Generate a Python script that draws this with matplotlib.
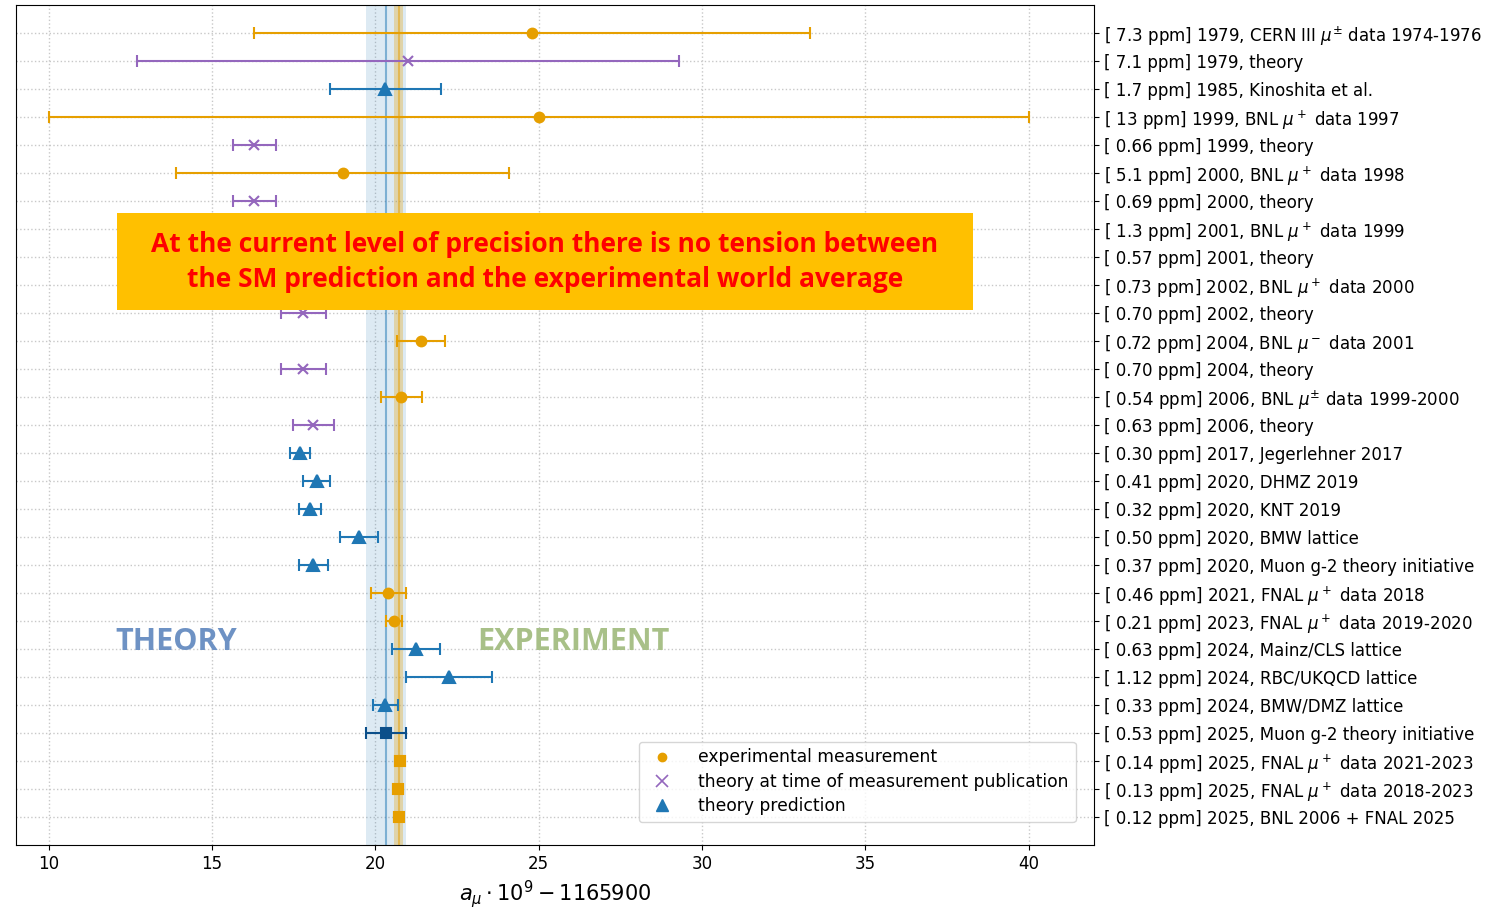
import numpy as np
import matplotlib.pyplot as plt
from matplotlib.lines import Line2D
from matplotlib.patches import Rectangle

# rows, top to bottom
labels = [
    r'[ 7.3 ppm] 1979, CERN III $\mu^{\pm}$ data 1974-1976',
    '[ 7.1 ppm] 1979, theory',
    '[ 1.7 ppm] 1985, Kinoshita et al.',
    r'[ 13 ppm] 1999, BNL $\mu^+$ data 1997',
    '[ 0.66 ppm] 1999, theory',
    r'[ 5.1 ppm] 2000, BNL $\mu^+$ data 1998',
    '[ 0.69 ppm] 2000, theory',
    r'[ 1.3 ppm] 2001, BNL $\mu^+$ data 1999',
    '[ 0.57 ppm] 2001, theory',
    r'[ 0.73 ppm] 2002, BNL $\mu^+$ data 2000',
    '[ 0.70 ppm] 2002, theory',
    r'[ 0.72 ppm] 2004, BNL $\mu^-$ data 2001',
    '[ 0.70 ppm] 2004, theory',
    r'[ 0.54 ppm] 2006, BNL $\mu^{\pm}$ data 1999-2000',
    '[ 0.63 ppm] 2006, theory',
    '[ 0.30 ppm] 2017, Jegerlehner 2017',
    '[ 0.41 ppm] 2020, DHMZ 2019',
    '[ 0.32 ppm] 2020, KNT 2019',
    '[ 0.50 ppm] 2020, BMW lattice',
    '[ 0.37 ppm] 2020, Muon g-2 theory initiative',
    r'[ 0.46 ppm] 2021, FNAL $\mu^+$ data 2018',
    r'[ 0.21 ppm] 2023, FNAL $\mu^+$ data 2019-2020',
    '[ 0.63 ppm] 2024, Mainz/CLS lattice',
    '[ 1.12 ppm] 2024, RBC/UKQCD lattice',
    '[ 0.33 ppm] 2024, BMW/DMZ lattice',
    '[ 0.53 ppm] 2025, Muon g-2 theory initiative',
    r'[ 0.14 ppm] 2025, FNAL $\mu^+$ data 2021-2023',
    r'[ 0.13 ppm] 2025, FNAL $\mu^+$ data 2018-2023',
    '[ 0.12 ppm] 2025, BNL 2006 + FNAL 2025',
]
kinds = ['exp', 'old', 'th', 'exp', 'old', 'exp', 'old', 'exp', 'old', 'exp',
         'old', 'exp', 'old', 'exp', 'old', 'th', 'th', 'th', 'th', 'th',
         'exp', 'exp', 'th', 'th', 'th', 'wp', 'exp25', 'exp25', 'exp25']
values = [24.8, 21.0, 20.3, 25.0, 16.3, 19.0, 16.3, 20.2, 15.96, 20.4,
          17.8, 21.4, 17.8, 20.8, 18.1, 17.7, 18.2, 18.0, 19.5, 18.1,
          20.4, 20.57, 21.25, 22.25, 20.31, 20.33, 20.75, 20.705, 20.715]
errors = [8.5, 8.3, 1.7, 15.0, 0.67, 5.1, 0.67, 1.5, 0.67, 0.85,
          0.7, 0.73, 0.7, 0.64, 0.63, 0.3, 0.42, 0.35, 0.58, 0.44,
          0.54, 0.24, 0.73, 1.31, 0.38, 0.62, 0.16, 0.15, 0.14]

# bands: theory initiative 2025 and experimental world average 2025
th_val, th_err = 20.33, 0.62
exp_val, exp_err = 20.715, 0.145

orange = '#E69F00'
purple = '#9467bd'
blue = '#1f77b4'
darkblue = '#0b4f8a'

styles = {
    'exp': dict(color=orange, marker='o', ms=7),
    'old': dict(color=purple, marker='x', ms=7),
    'th': dict(color=blue, marker='^', ms=8),
    'wp': dict(color=darkblue, marker='s', ms=7),
    'exp25': dict(color=orange, marker='s', ms=7),
}

fig = plt.figure(figsize=(14.85, 9.08), dpi=100)
ax = fig.add_axes([0.0108, 0.0694, 0.7259, 0.9251])

ax.axvspan(th_val - th_err, th_val + th_err, color=blue, alpha=0.15, lw=0)
ax.axvline(th_val, color=blue, alpha=0.5, lw=1.5)
ax.axvspan(exp_val - exp_err, exp_val + exp_err, color=orange, alpha=0.3, lw=0)
ax.axvline(exp_val, color=orange, alpha=0.5, lw=1.5)

y = np.arange(len(labels))
for yi, v, e, k in zip(y, values, errors, kinds):
    st = styles[k]
    ax.errorbar(v, yi, xerr=e, fmt=st['marker'], color=st['color'],
                ms=st['ms'], capsize=4, elinewidth=1.5, capthick=1.5,
                mew=1.5, zorder=3)

ax.set_yticks(y)
ax.set_yticklabels(labels, fontsize=12)
ax.yaxis.tick_right()
ax.set_ylim(len(labels), -1)
ax.set_xlim(9, 42)
ax.set_xticks([10, 15, 20, 25, 30, 35, 40])
ax.tick_params(axis='x', labelsize=12)
ax.grid(True, linestyle=':', color='#c8c8c8', lw=1)
ax.set_axisbelow(True)
ax.set_xlabel(r'$a_\mu \cdot 10^9 - 1165900$', fontsize=15)

ax.text(13.9, 21.75, 'THEORY', color='#6e92c4', fontsize=22, fontweight='bold',
        family='Open Sans', ha='center', va='center')
ax.text(26.07, 21.75, 'EXPERIMENT', color='#a8c088', fontsize=22, fontweight='bold',
        family='Open Sans', ha='center', va='center')

handles = [
    Line2D([], [], ls='none', marker='o', color=orange, ms=6),
    Line2D([], [], ls='none', marker='x', color=purple, ms=8, mew=1.2),
    Line2D([], [], ls='none', marker='^', color=blue, ms=9),
]
ax.legend(handles, ['experimental measurement',
                    'theory at time of measurement publication',
                    'theory prediction'],
          loc='lower right', bbox_to_anchor=(0.983, 0.027), borderaxespad=0,
          fontsize=12.3, handletextpad=1.1, labelspacing=0.38)

# message box on top
fig.add_artist(Rectangle((0.0788, 0.6586), 0.5764, 0.1068,
                         transform=fig.transFigure, facecolor='#FFC000',
                         edgecolor='none', zorder=5))
fig.text(0.367, 0.7115,
         'At the current level of precision there is no tension between\n'
         'the SM prediction and the experimental world average',
         color='#FF0000', fontsize=19, fontweight='bold', family='Open Sans',
         ha='center', va='center', linespacing=1.42, zorder=6)

fig.savefig('out.png', dpi=100)
